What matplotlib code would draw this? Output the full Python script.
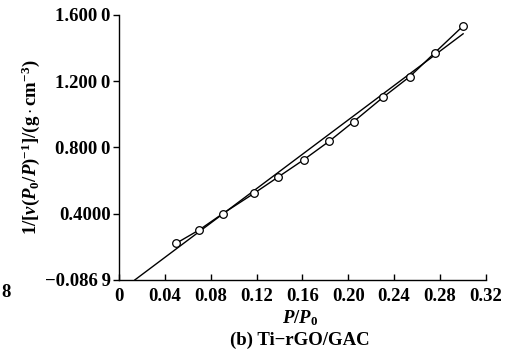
import matplotlib.pyplot as plt
import numpy as np

plt.rcParams['font.family'] = ['Liberation Serif', 'DejaVu Serif']
plt.rcParams['mathtext.fontset'] = 'custom'
plt.rcParams['mathtext.rm'] = 'Liberation Serif:bold'
plt.rcParams['mathtext.it'] = 'Liberation Serif:bold:italic'
plt.rcParams['mathtext.bf'] = 'Liberation Serif:bold'

# measured points
p_rel = [0.050, 0.070, 0.0905, 0.118, 0.1386, 0.161, 0.1835, 0.2048, 0.2305, 0.2538, 0.2757, 0.2997]
bet_y = [0.2216, 0.302, 0.400, 0.5236, 0.620, 0.7246, 0.8376, 0.956, 1.103, 1.2277, 1.3726, 1.5296]

# fitted line end points
fit_x = [0.0138, 0.3002]
fit_y = [0.0, 1.4855]

xticks = [0, 0.04, 0.08, 0.12, 0.16, 0.20, 0.24, 0.28, 0.32]
xticklabels = ['0', '0.04', '0.08', '0.12', '0.16', '0.20', '0.24', '0.28', '0.32']
yticks = [0.0, 0.4, 0.8, 1.2, 1.6]
yticklabels = ['\u22120.086\u20099', '0.4000', '0.800\u20090', '1.200\u20090', '1.600\u20090']

fig = plt.figure(figsize=(5.13, 3.53), dpi=100)
ax = fig.add_axes([0.232, 0.207, 0.715, 0.751])

ax.plot(fit_x, fit_y, color='black', lw=1.0)
ax.plot(p_rel, bet_y, color='black', lw=1.0, marker='o', markersize=5.5,
        markerfacecolor='white', markeredgecolor='black', markeredgewidth=0.9)

ax.set_xlim(0, 0.32)
ax.set_ylim(0, 1.6)
ax.set_xticks(xticks)
ax.set_xticklabels(xticklabels, fontsize=13.5, fontweight='bold')
ax.set_yticks(yticks)
ax.set_yticklabels(yticklabels, fontsize=13.5, fontweight='bold')
ax.tick_params(axis='x', direction='in', length=4, width=1, pad=6)
ax.tick_params(axis='y', direction='out', length=4, width=1, pad=2)

for s in ['top', 'right']:
    ax.spines[s].set_visible(False)
for s in ['left', 'bottom']:
    ax.spines[s].set_linewidth(1.0)

ax.set_xlabel(r'$P/P_0$', fontsize=13.5)
ax.xaxis.set_label_coords(0.493, -0.143)
ax.xaxis.label.set_va('center')
ax.set_ylabel(r'$1/[\nu(P_0/P)^{-1}]/(\mathrm{g\cdot cm^{-3}})$', fontsize=13.5)
ax.yaxis.set_label_coords(-0.24, 0.5)
ax.yaxis.label.set_va('center')

fig.text(0.585, 0.037, '(b) Ti\u2212rGO/GAC', ha='center', va='center', fontsize=13.5, fontweight='bold')
fig.text(0.012, 0.17, '8', ha='center', va='center', fontsize=13.5, fontweight='bold')

fig.savefig('out.png', dpi=100)
